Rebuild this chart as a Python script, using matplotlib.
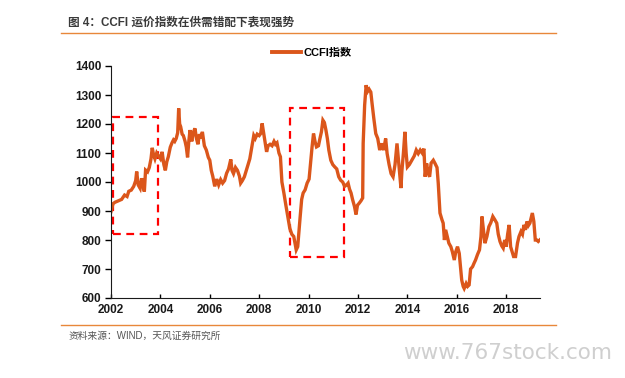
import matplotlib
matplotlib.use("Agg")
import matplotlib.pyplot as plt
from matplotlib.patches import Rectangle
from matplotlib.lines import Line2D

# ---- data ----
years = [
    2002.00, 2002.08, 2002.16, 2002.30, 2002.43, 2002.55, 2002.65, 2002.72, 2002.82, 2002.92,
    2003.00, 2003.04, 2003.10, 2003.18, 2003.24, 2003.30, 2003.35, 2003.40, 2003.48, 2003.55,
    2003.62, 2003.67, 2003.72, 2003.78, 2003.85, 2003.92, 2004.00, 2004.07, 2004.14, 2004.20,
    2004.26, 2004.32, 2004.40, 2004.47, 2004.53, 2004.58, 2004.64, 2004.70, 2004.74, 2004.78,
    2004.82, 2004.88, 2004.93, 2005.00, 2005.05, 2005.10, 2005.15, 2005.20, 2005.27, 2005.33,
    2005.40, 2005.46, 2005.52, 2005.58, 2005.64, 2005.70, 2005.78, 2005.86, 2005.94, 2006.00,
    2006.06, 2006.12, 2006.20, 2006.28, 2006.36, 2006.44, 2006.52, 2006.60, 2006.68, 2006.76,
    2006.85, 2006.90, 2006.96, 2007.04, 2007.12, 2007.20, 2007.25, 2007.32, 2007.40, 2007.48,
    2007.55, 2007.62, 2007.70, 2007.78, 2007.84, 2007.92, 2008.00, 2008.06, 2008.12, 2008.18,
    2008.24, 2008.30, 2008.36, 2008.44, 2008.52, 2008.60, 2008.66, 2008.72, 2008.80, 2008.86,
    2008.92, 2009.00, 2009.08, 2009.16, 2009.24, 2009.32, 2009.40, 2009.45, 2009.50, 2009.56,
    2009.62, 2009.66, 2009.72, 2009.78, 2009.86, 2009.94, 2010.02, 2010.08, 2010.14, 2010.20,
    2010.26, 2010.32, 2010.40, 2010.46, 2010.52, 2010.58, 2010.64, 2010.70, 2010.76, 2010.82,
    2010.90, 2010.98, 2011.06, 2011.14, 2011.22, 2011.30, 2011.38, 2011.46, 2011.54, 2011.60,
    2011.66, 2011.72, 2011.78, 2011.86, 2011.92, 2011.98, 2012.05, 2012.12, 2012.19, 2012.21,
    2012.27, 2012.33, 2012.38, 2012.45, 2012.52, 2012.57, 2012.64, 2012.72, 2012.80, 2012.88,
    2012.96, 2013.04, 2013.12, 2013.18, 2013.26, 2013.34, 2013.42, 2013.50, 2013.58, 2013.64,
    2013.70, 2013.74, 2013.78, 2013.84, 2013.90, 2013.95, 2014.00, 2014.08, 2014.18, 2014.28,
    2014.36, 2014.44, 2014.52, 2014.60, 2014.67, 2014.72, 2014.78, 2014.84, 2014.90, 2014.96,
    2015.05, 2015.12, 2015.20, 2015.25, 2015.32, 2015.40, 2015.45, 2015.50, 2015.55, 2015.62,
    2015.68, 2015.76, 2015.82, 2015.90, 2015.96, 2016.03, 2016.10, 2016.16, 2016.20, 2016.26,
    2016.30, 2016.38, 2016.44, 2016.50, 2016.56, 2016.64, 2016.70, 2016.76, 2016.84, 2016.92,
    2016.98, 2017.02, 2017.06, 2017.14, 2017.22, 2017.30, 2017.38, 2017.46, 2017.54, 2017.62,
    2017.68, 2017.75, 2017.82, 2017.88, 2017.94, 2018.00, 2018.06, 2018.12, 2018.18, 2018.24,
    2018.30, 2018.38, 2018.46, 2018.52, 2018.60, 2018.66, 2018.72, 2018.78, 2018.84, 2018.90,
    2018.96, 2019.02, 2019.06, 2019.12, 2019.18, 2019.24, 2019.30, 2019.36,
]
ccfi = [
    898, 925, 930, 935, 940, 955, 950, 968, 972, 985,
    1005, 1036, 990, 978, 1013, 985, 967, 1041, 1035, 1050,
    1080, 1118, 1095, 1080, 1100, 1090, 1080, 1104, 1060, 1040,
    1070, 1087, 1120, 1135, 1145, 1140, 1150, 1170, 1254, 1200,
    1191, 1165, 1160, 1140, 1120, 1085, 1140, 1179, 1140, 1170,
    1185, 1150, 1130, 1165, 1150, 1173, 1125, 1110, 1085, 1075,
    1040, 1020, 985, 1010, 990, 1008, 996, 1005, 1030, 1045,
    1078, 1040, 1029, 1050, 1040, 1020, 996, 1005, 1018, 1040,
    1060, 1080, 1120, 1160, 1150, 1165, 1160, 1167, 1202, 1170,
    1140, 1104, 1125, 1130, 1125, 1140, 1130, 1135, 1100, 1087,
    1000, 962, 920, 881, 840, 820, 812, 790, 766, 777,
    840, 881, 940, 962, 973, 996, 1010, 1064, 1120, 1167,
    1140, 1121, 1125, 1150, 1173, 1213, 1205, 1180, 1150, 1110,
    1075, 1060, 1052, 1045, 1018, 1006, 1000, 985, 990, 996,
    975, 962, 940, 915, 888, 920, 927, 935, 945, 1133,
    1265, 1334, 1311, 1320, 1310, 1271, 1220, 1167, 1150, 1110,
    1133, 1110, 1150, 1098, 1060, 1029, 1018, 1060, 1133, 1075,
    1020, 979, 1040, 1100, 1173, 1100, 1052, 1060, 1075, 1090,
    1110, 1098, 1110, 1100, 1115, 1018, 1064, 1030, 1018, 1065,
    1075, 1064, 1050, 996, 893, 870, 858, 800, 835, 810,
    789, 777, 760, 731, 760, 777, 754, 700, 662, 640,
    633, 650, 640, 645, 700, 708, 720, 731, 750, 766,
    812, 881, 850, 789, 812, 846, 860, 881, 870, 858,
    820, 795, 780, 772, 800, 777, 820, 852, 777, 760,
    743, 743, 790, 812, 829, 820, 852, 835, 864, 850,
    858, 880, 893, 864, 800, 800, 795, 800,
]
series_label = "CCFI指数"
x_ticks = [2002, 2004, 2006, 2008, 2010, 2012, 2014, 2016, 2018]
y_ticks = [600, 700, 800, 900, 1000, 1100, 1200, 1300, 1400]
# highlight boxes: (x0, x1, y0, y1)
box1 = [2002.09, 2003.89, 820, 1225]
box2 = [2009.25, 2011.42, 742, 1254]

title = "图 4：CCFI 运价指数在供需错配下表现强势"
source = "资料来源：WIND，天风证券研究所"
watermark = "www.767stock.com"

# ---- drawing ----
cjk = ['Liberation Sans', 'Noto Sans CJK SC', 'DejaVu Sans']
plt.rcParams['font.family'] = cjk

fig = plt.figure(figsize=(6.25, 3.78), dpi=100)
ax = fig.add_axes([111 / 625, 1 - 298 / 378, (540 - 111) / 625, (298 - 66) / 378])

line_color = '#DB561B'
ax.plot(years, ccfi, color=line_color, lw=2.4, solid_joinstyle='miter', label=series_label)

for b in (box1, box2):
    ax.add_patch(Rectangle((b[0], b[2]), b[1] - b[0], b[3] - b[2], fill=False,
                           edgecolor='#FF0000', lw=1.6, linestyle=(0, (3.5, 2.5))))

ax.set_xlim(2002, 2019.37)
ax.set_ylim(600, 1400)
ax.set_xticks(x_ticks)
ax.set_yticks(y_ticks)
ax.set_xticklabels([str(t) for t in x_ticks])
ax.set_yticklabels([str(t) for t in y_ticks])
for lab in ax.get_xticklabels() + ax.get_yticklabels():
    lab.set_fontweight('bold')
    lab.set_fontsize(8.5)
    lab.set_color('#1a1a1a')
ax.tick_params(axis='x', direction='in', length=3, width=1, pad=4)
ax.tick_params(axis='y', direction='out', length=4, width=1, pad=3)
ax.spines['top'].set_visible(False)
ax.spines['right'].set_visible(False)
ax.spines['left'].set_color('#1a1a1a')
ax.spines['bottom'].set_color('#1a1a1a')

leg = ax.legend(loc='center', bbox_to_anchor=(312 / 625, 1 - 53 / 378),
                bbox_transform=fig.transFigure, frameon=False,
                handlelength=2.6, handletextpad=0.25,
                prop={'family': cjk, 'weight': 'bold', 'size': 8})
for h in leg.get_lines():
    h.set_linewidth(2.8)

# title and rules
fig.text(68 / 625, 1 - 23 / 378, title, fontsize=8.4, fontweight='bold',
         color='#3a3a3a', va='center', ha='left', family=cjk)
orange = '#E8873A'
fig.add_artist(Line2D([61 / 625, 556 / 625], [1 - 33.3 / 378] * 2, color=orange, lw=1.0,
                      transform=fig.transFigure))
fig.add_artist(Line2D([61 / 625, 556 / 625], [1 - 325 / 378] * 2, color=orange, lw=1.0,
                      transform=fig.transFigure))
fig.text(69 / 625, 1 - 336 / 378, source, fontsize=7, color='#555555',
         va='center', ha='left', family=cjk)
fig.text(403 / 625, 1 - 353 / 378, watermark, fontsize=15.5, color='#cfcfcf',
         va='center', ha='left', family=['DejaVu Sans'])

fig.savefig('out.png', dpi=100)
